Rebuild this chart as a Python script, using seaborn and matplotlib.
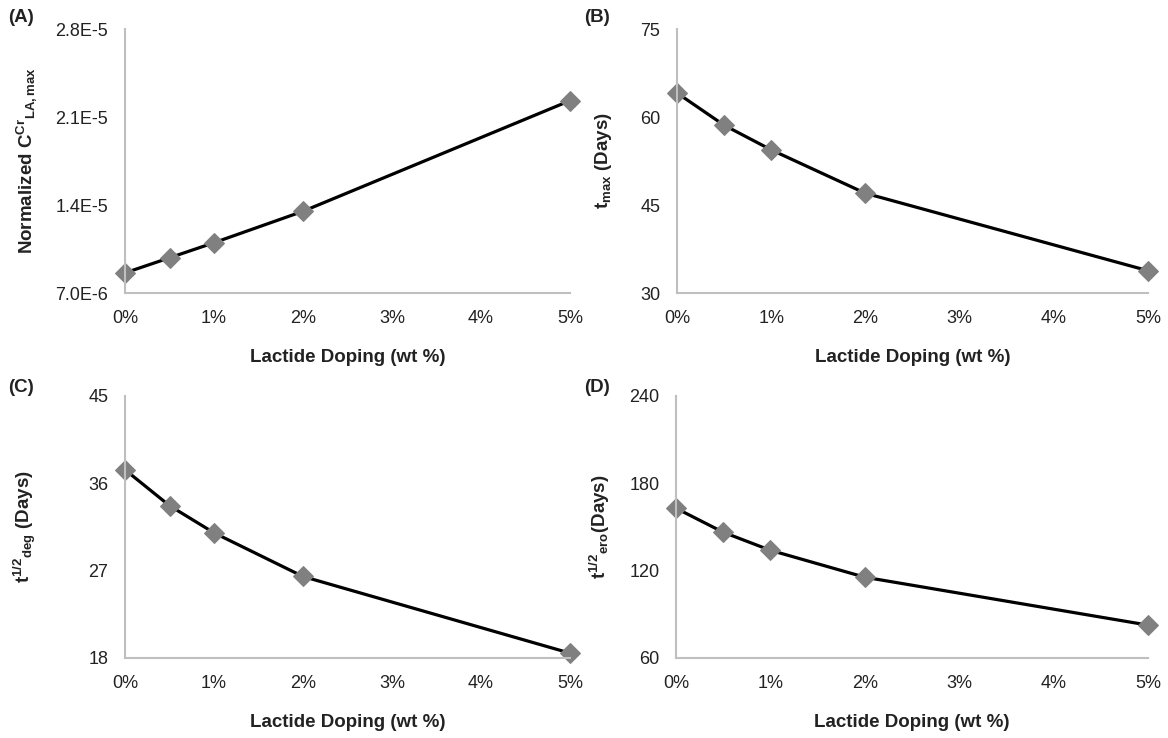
import matplotlib
matplotlib.use("Agg")
import matplotlib.pyplot as plt
import seaborn as sns
import pandas as pd
from matplotlib.ticker import FuncFormatter

# ---- data ----
doping = [0.0, 0.5, 1.0, 2.0, 5.0]               # wt %
c_norm = [8.6e-6, 9.8e-6, 11.0e-6, 13.5e-6, 22.3e-6]
t_max = [64.1, 58.6, 54.4, 47.0, 33.8]
t_half_deg = [37.4, 33.7, 30.9, 26.4, 18.5]
t_half_ero = [162.9, 146.4, 134.0, 115.5, 82.6]

x_ticks = [0, 1, 2, 3, 4, 5]
panel_letters = ["(A)", "(B)", "(C)", "(D)"]
xlabel = "Lactide Doping (wt %)"
ylabels = [r"Normalized C$^{Cr}$$_{LA,max}$",
           r"t$_{max}$ (Days)",
           r"t$^{1/2}$$_{deg}$ (Days)",
           r"t$^{1/2}$$_{ero}$(Days)"]
y_ticks = [[7.0e-6, 1.4e-5, 2.1e-5, 2.8e-5],
           [30, 45, 60, 75],
           [18, 27, 36, 45],
           [60, 120, 180, 240]]
y_ticklabels = [["7.0E-6", "1.4E-5", "2.1E-5", "2.8E-5"],
                ["30", "45", "60", "75"],
                ["18", "27", "36", "45"],
                ["60", "120", "180", "240"]]
series = [c_norm, t_max, t_half_deg, t_half_ero]

sns.set_style("white")
plt.rcParams["font.family"] = ["Liberation Sans", "DejaVu Sans"]
plt.rcParams["mathtext.fontset"] = "custom"
plt.rcParams["mathtext.rm"] = "Liberation Sans:bold"
plt.rcParams["mathtext.it"] = "Liberation Sans:bold"
plt.rcParams["mathtext.bf"] = "Liberation Sans:bold"
plt.rcParams["mathtext.default"] = "bf"

W, H = 1168, 738
fig = plt.figure(figsize=(W / 100, H / 100), dpi=100)

# axes boxes in pixels: (left, top, right, bottom)
boxes = [(125, 29, 570, 293), (677, 29, 1148, 293),
         (125, 396, 570, 658), (676, 396, 1148, 658)]
ylabel_x = [39, 614, 38, 612]
letter_pos = [(8, 18), (584, 18), (8, 387), (584, 387)]

axis_grey = "#bfbfbf"
text_col = "#222222"

for i, (l, t, r, b) in enumerate(boxes):
    ax = fig.add_axes([l / W, 1 - b / H, (r - l) / W, (b - t) / H])
    df = pd.DataFrame({"x": doping, "y": series[i]})
    sns.lineplot(data=df, x="x", y="y", ax=ax, color="black", linewidth=2.3,
                 marker="D", markersize=10, markerfacecolor="#808080",
                 markeredgecolor="#808080", clip_on=False)
    ax.set_xlim(0, 5)
    ax.set_ylim(y_ticks[i][0], y_ticks[i][-1])
    ax.set_xticks(x_ticks)
    ax.xaxis.set_major_formatter(FuncFormatter(lambda v, p: f"{int(round(v))}%"))
    ax.set_yticks(y_ticks[i])
    ax.set_yticklabels(y_ticklabels[i])
    for s in ["top", "right"]:
        ax.spines[s].set_visible(False)
    for s in ["left", "bottom"]:
        ax.spines[s].set_color(axis_grey)
        ax.spines[s].set_linewidth(1.5)
    ax.tick_params(axis="both", which="major", length=5, width=1.2,
                   color=axis_grey, labelsize=13, labelcolor=text_col,
                   direction="out", pad=7)
    ax.tick_params(axis="y", pad=7)
    ax.set_xlabel(xlabel, fontsize=13.5, fontweight="bold", color=text_col,
                  labelpad=16)
    ax.set_ylabel(ylabels[i], fontsize=13.5, fontweight="bold", color=text_col)
    ax.yaxis.set_label_coords((ylabel_x[i] - l) / (r - l), 0.5)
    lx, ly = letter_pos[i]
    fig.text(lx / W, 1 - ly / H, panel_letters[i], fontsize=13.5,
             fontweight="bold", color=text_col, ha="left", va="center")

fig.savefig("out.png", dpi=100, facecolor="white")
